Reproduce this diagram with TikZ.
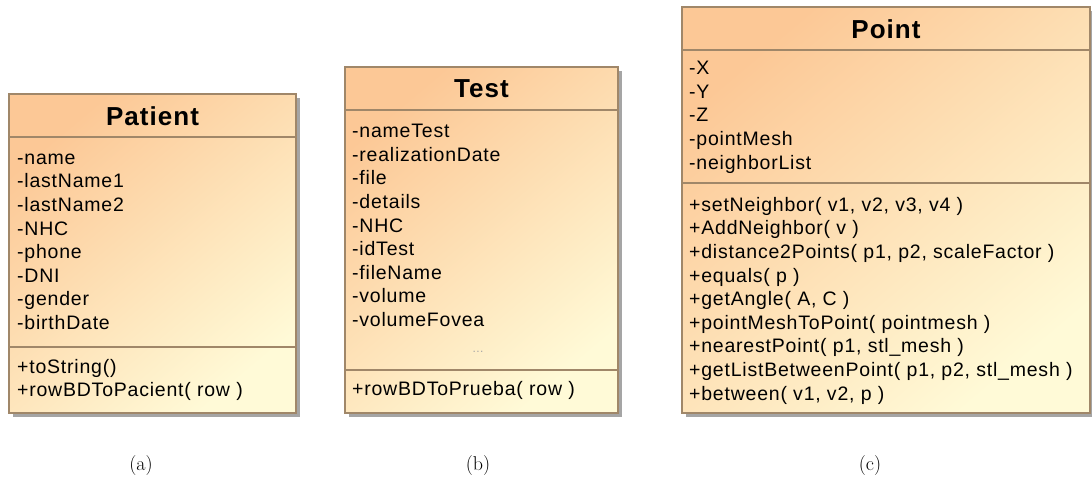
\documentclass[tikz,border=0pt]{standalone}
\usepackage{fontspec}
\newfontfamily\umlfont[LetterSpace=4]{Liberation Sans}
\usetikzlibrary{shadows}

\definecolor{peach}{RGB}{252,200,150}
\definecolor{cream}{RGB}{255,250,215}
\definecolor{boxline}{RGB}{160,135,105}
\definecolor{shadowgrey}{RGB}{165,165,165}

\tikzset{
  classbox/.style={rectangle, inner sep=0pt, draw=boxline, line width=1.3pt,
    top color=peach, bottom color=cream, shading angle=40,
    drop shadow={shadow xshift=4pt, shadow yshift=-4pt, fill=shadowgrey, opacity=1}},
  divider/.style={draw=boxline, line width=1.3pt},
  classtitle/.style={inner sep=0pt, font=\umlfont\bfseries\fontsize{26}{29}\selectfont},
  members/.style={inner sep=0pt, anchor=north west, align=left,
    font=\umlfont\fontsize{19.5}{23.6}\selectfont},
  subcaption/.style={inner sep=0pt, font=\fontsize{20}{24}\selectfont},
}

\begin{document}
\begin{tikzpicture}[x=1pt, y=-1pt]
\useasboundingbox (0,0) rectangle (1092,481);

% ---- Patient ----
\node[classbox, minimum width=287pt, minimum height=319pt] (patient) at (152.5,253.5) {};
\draw[divider] (patient.west |- 0,137) -- (patient.east |- 0,137);
\draw[divider] (patient.west |- 0,347) -- (patient.east |- 0,347);
\node[classtitle] (patientTitle) at (152.5,116) {Patient};
\node[members] (patientAttrs) at (17,147.5)
  {\strut -name\\-lastName1\\-lastName2\\-NHC\\-phone\\-DNI\\-gender\\-birthDate};
\node[members] (patientOps) at (17,356.5)
  {\strut +toString()\\+rowBDToPacient( row )};

% ---- Test ----
\node[classbox, minimum width=273pt, minimum height=346pt] (test) at (481.5,240) {};
\draw[divider] (test.west |- 0,110) -- (test.east |- 0,110);
\draw[divider] (test.west |- 0,370) -- (test.east |- 0,370);
\node[classtitle] (testTitle) at (481.5,89) {Test};
\node[members] (testAttrs) at (352,121)
  {\strut -nameTest\\-realizationDate\\-file\\-details\\-NHC\\-idTest\\-fileName\\-volume\\-volumeFovea};
\node[inner sep=0pt, text=gray!70, font=\umlfont\fontsize{12}{14}\selectfont] (testMore) at (478,352) {...};
\node[members] (testOps) at (352,378.5)
  {\strut +rowBDToPrueba( row )};

% ---- Point ----
\node[classbox, minimum width=408pt, minimum height=406pt] (point) at (886,210) {};
\draw[divider] (point.west |- 0,50) -- (point.east |- 0,50);
\draw[divider] (point.west |- 0,183) -- (point.east |- 0,183);
\node[classtitle] (pointTitle) at (886,29) {Point};
\node[members] (pointAttrs) at (689,58)
  {\strut -X\\-Y\\-Z\\-pointMesh\\-neighborList};
\node[members] (pointOps) at (689,194.5)
  {\strut +setNeighbor( v1, v2, v3, v4 )\\+AddNeighbor( v )\\+distance2Points( p1, p2, scaleFactor )\\+equals( p )\\+getAngle( A, C )\\+pointMeshToPoint( pointmesh )\\+nearestPoint( p1, stl\_mesh )\\+getListBetweenPoint( p1, p2, stl\_mesh )\\+between( v1, v2, p )};

% ---- sub-figure captions ----
\node[subcaption] (capA) at (141,466) {(a)};
\node[subcaption] (capB) at (478,466) {(b)};
\node[subcaption] (capC) at (870,466) {(c)};
\end{tikzpicture}
\end{document}
